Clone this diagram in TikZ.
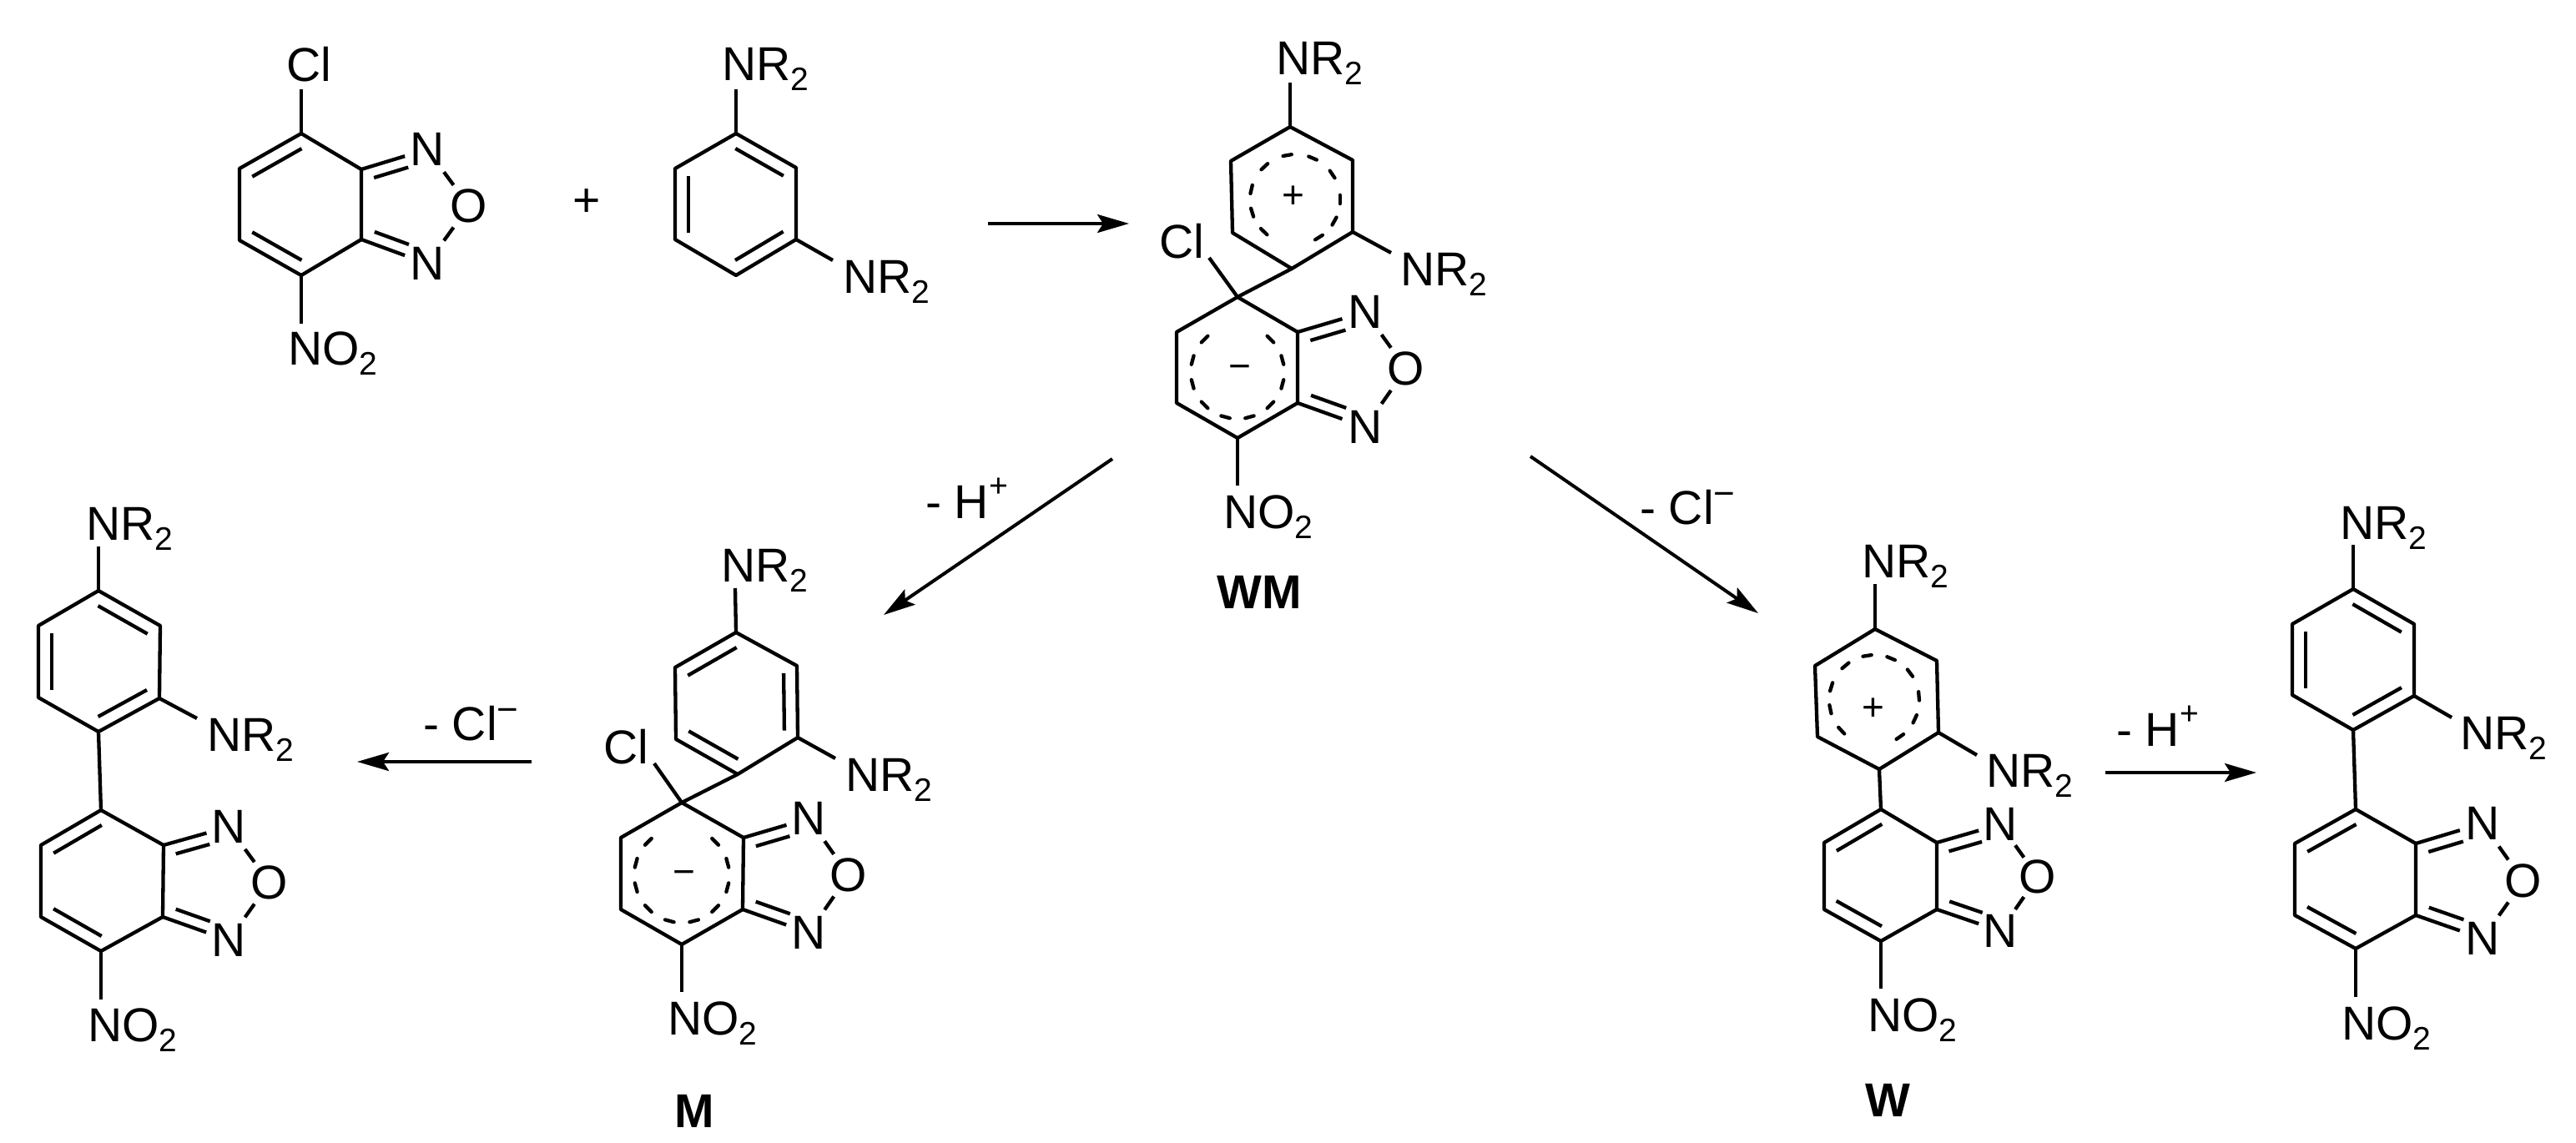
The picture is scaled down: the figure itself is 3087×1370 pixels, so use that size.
\documentclass[tikz,border=0pt]{standalone}
\usepackage{fontspec}
\setmainfont{Liberation Sans}
\usetikzlibrary{calc, arrows.meta}

\newcommand{\subtwo}{\raisebox{-12pt}{\fontsize{39pt}{39pt}\selectfont 2}}
\newcommand{\supplus}{\raisebox{26pt}{\fontsize{39pt}{39pt}\selectfont +}}
\newcommand{\supminus}{\raisebox{22pt}{\fontsize{44pt}{44pt}\selectfont −}}
\newcommand{\atoms}[1]{\foreach \n/\x/\y in {#1} {\coordinate (\n) at (\x,\y);}}
\newcommand{\hexbonds}[1]{\draw[bond] (#1T) -- (#1UR) -- (#1LR) -- (#1B) -- (#1LL) -- (#1UL) -- cycle;}
\newcommand{\innerbond}[2]{\draw[bond] ($(#1)!.1!(#2)!16pt!90:(#2)$) -- ($(#2)!.1!(#1)!16pt!-90:(#1)$);}
\newcommand{\furazan}[5]{
    \draw[bond] (#1) -- ($(#1)!.66!(#3)$);
    \draw[bond] ($(#1)!.14!(#3)!14pt!-90:(#3)$) -- ($(#1)!.66!(#3)!14pt!-90:(#3)$);
    \draw[bond] (#2) -- ($(#2)!.66!(#4)$);
    \draw[bond] ($(#2)!.14!(#4)!14pt!90:(#4)$) -- ($(#2)!.66!(#4)!14pt!90:(#4)$);
    \draw[bond] ($(#3)!.4!(#5)$) -- ($(#3)!.63!(#5)$);
    \draw[bond] ($(#4)!.4!(#5)$) -- ($(#4)!.63!(#5)$);
}
\newcommand{\chargering}[3]{\foreach \a in {#3} {\draw[bond, line cap=round] ($(#1)+({-\a-5.5}:#2)$) -- ($(#1)+({-\a+5.5}:#2)$);}}

\tikzset{
    bond/.style={line width=4.3pt, line join=round},
    atom/.style={inner sep=0pt, font=\fontsize{57pt}{60pt}\selectfont},
    label/.style={atom, anchor=base west},
    tag/.style={atom, anchor=base, font=\fontsize{57pt}{60pt}\selectfont\bfseries},
    charge/.style={inner sep=0pt, font=\fontsize{46pt}{48pt}\selectfont},
    rxn/.style={line width=4pt, -{Stealth[length=38pt, width=22pt, inset=7pt]}}
}

\begin{document}
\begin{tikzpicture}[x=1pt, y=-1pt]
    \useasboundingbox (0,0) rectangle (3087,1370);

    \atoms{aT/361/160, aUR/433/203, aLR/433/287, aB/361/330, aLL/287/288, aUL/287/202, aX/361/107, aY/361/388}
    \node[label] (aCl) at (343,98) {Cl};
    \node[label] (aNO) at (345,437) {NO\subtwo};
    \node[atom] (aN1) at (512,179) {N};
    \node[atom] (aN2) at (512,316) {N};
    \node[atom] (aO) at (562,247) {O};
    \hexbonds{a}
    \draw[bond] (aT) -- (aX);
    \draw[bond] (aB) -- (aY);
    \innerbond{aT}{aUL}
    \innerbond{aLL}{aB}
    \furazan{aUR}{aLR}{aN1}{aN2}{aO}

    \node[atom] (plus) at (703,243) {+};

    \atoms{bT/882/160, bUR/954/201, bLR/954/287, bB/882/330, bLL/809/287, bUL/809/202, bX/882/107, bY/998/312}
    \node[label] (bN1) at (865,97) {NR\subtwo};
    \node[label] (bN2) at (1010,351) {NR\subtwo};
    \hexbonds{b}
    \draw[bond] (bT) -- (bX);
    \draw[bond] (bLR) -- (bY);
    \innerbond{bUR}{bT}
    \innerbond{bUL}{bLL}
    \innerbond{bB}{bLR}

    \atoms{arrow1a/1184/268, arrow1b/1353/268}
    \draw[rxn] (arrow1a) -- (arrow1b);

    \atoms{cT/1546/152, cUR/1621/192, cLR/1621/278, cB/1548/322, cLL/1477/279, cUL/1475/193, cX/1546/99, cY/1667/303, cC/1552/239}
    \atoms{dT/1483/356, dUR/1555/398, dLR/1555/483, dB/1483/525, dLL/1410/483, dUL/1410/398, dX/1449/309, dY/1483/582, dC/1483/446}
    \node[label] (cN1) at (1529,90) {NR\subtwo};
    \node[label] (cN2) at (1678,342) {NR\subtwo};
    \node[label] (dCl) at (1389,309) {Cl};
    \node[label] (dNO) at (1466,633) {NO\subtwo};
    \node[atom] (dN1) at (1636,374) {N};
    \node[atom] (dN2) at (1636,512) {N};
    \node[atom] (dO) at (1685,442) {O};
    \node[charge] (cQ) at (1550,236) {+};
    \node[charge] (dQ) at (1486,446) {−};
    \node[tag] (wm) at (1509,729) {WM};
    \hexbonds{c}
    \hexbonds{d}
    \draw[bond] (cT) -- (cX);
    \draw[bond] (cLR) -- (cY);
    \draw[bond] (cB) -- (dT);
    \draw[bond] (dT) -- (dX);
    \draw[bond] (dB) -- (dY);
    \chargering{cC}{54}{0,34,67,100,133,167,197,226,302,331}
    \chargering{dC}{56}{15,45,135,165,195,225,255,285,315,345}
    \furazan{dUR}{dLR}{dN1}{dN2}{dO}

    \atoms{arrow2a/1333/550, arrow2b/1059/737, arrow3a/1834/547, arrow3b/2107/735}
    \draw[rxn] (arrow2a) -- (arrow2b);
    \draw[rxn] (arrow3a) -- (arrow3b);
    \node[label] (lossH) at (1109,621) {- H\supplus};
    \node[label] (lossCl) at (1965,628) {- Cl\supminus};

    \atoms{pT/118/708, pUR/192/750, pLR/191/837, pB/118/877, pLL/46/836, pUL/46/750, pX/118/655, pY/236/861}
    \atoms{qT/121/971, qUR/196/1013, qLR/195/1099, qB/121/1140, qLL/49/1099, qUL/49/1013, qY/121/1198}
    \node[label] (pN1) at (103,647) {NR\subtwo};
    \node[label] (pN2) at (248,900) {NR\subtwo};
    \node[label] (qNO) at (105,1248) {NO\subtwo};
    \node[atom] (qN1) at (274,991) {N};
    \node[atom] (qN2) at (274,1127) {N};
    \node[atom] (qO) at (323,1058) {O};
    \hexbonds{p}
    \hexbonds{q}
    \draw[bond] (pT) -- (pX);
    \draw[bond] (pLR) -- (pY);
    \draw[bond] (pB) -- (qT);
    \draw[bond] (qB) -- (qY);
    \innerbond{pUR}{pT}
    \innerbond{pUL}{pLL}
    \innerbond{pB}{pLR}
    \innerbond{qT}{qUL}
    \innerbond{qLL}{qB}
    \furazan{qUR}{qLR}{qN1}{qN2}{qO}

    \atoms{arrow4a/637/913, arrow4b/428/913}
    \draw[rxn] (arrow4a) -- (arrow4b);
    \node[label] (lossCl2) at (507,887) {- Cl\supminus};

    \atoms{eT/882/758, eUR/955/798, eLR/956/884, eB/884/928, eLL/810/886, eUL/809/800, eX/881/705, eY/1001/909}
    \atoms{fT/817/962, fUR/891/1004, fLR/890/1090, fB/817/1132, fLL/744/1090, fUL/744/1004, fX/784/915, fY/817/1189, fC/817/1049}
    \node[label] (eN1) at (864,697) {NR\subtwo};
    \node[label] (eN2) at (1013,948) {NR\subtwo};
    \node[label] (fCl) at (723,915) {Cl};
    \node[label] (fNO) at (800,1240) {NO\subtwo};
    \node[atom] (fN1) at (969,981) {N};
    \node[atom] (fN2) at (969,1118) {N};
    \node[atom] (fO) at (1017,1049) {O};
    \node[charge] (fQ) at (820,1052) {−};
    \node[tag] (m) at (832,1351) {M};
    \hexbonds{e}
    \hexbonds{f}
    \draw[bond] (eT) -- (eX);
    \draw[bond] (eLR) -- (eY);
    \draw[bond] (eB) -- (fT);
    \draw[bond] (fT) -- (fX);
    \draw[bond] (fB) -- (fY);
    \innerbond{eT}{eUL}
    \innerbond{eLR}{eUR}
    \innerbond{eLL}{eB}
    \chargering{fC}{57}{15,45,135,165,195,225,255,285,315,345}
    \furazan{fUR}{fLR}{fN1}{fN2}{fO}

    \atoms{gT/2247/754, gUR/2321/792, gLR/2323/878, gB/2252/922, gLL/2178/883, gUL/2175/798, gX/2247/700, gY/2369/905, gC/2246/839}
    \atoms{hT/2254/970, hUR/2321/1010, hLR/2321/1090, hB/2254/1128, hLL/2186/1090, hUL/2186/1010, hY/2254/1185}
    \node[label] (gN1) at (2231,692) {NR\subtwo};
    \node[label] (gN2) at (2380,943) {NR\subtwo};
    \node[label] (hNO) at (2238,1236) {NO\subtwo};
    \node[atom] (hN1) at (2397,988) {N};
    \node[atom] (hN2) at (2397,1116) {N};
    \node[atom] (hO) at (2442,1051) {O};
    \node[charge] (gQ) at (2245,850) {+};
    \node[tag] (w) at (2262,1338) {W};
    \hexbonds{g}
    \hexbonds{h}
    \draw[bond] (gT) -- (gX);
    \draw[bond] (gLR) -- (gY);
    \draw[bond] (gB) -- (hT);
    \draw[bond] (hB) -- (hY);
    \innerbond{hT}{hUL}
    \innerbond{hLL}{hB}
    \chargering{gC}{54}{5,37,68,99,130,163,192,223,305,335}
    \furazan{hUR}{hLR}{hN1}{hN2}{hO}

    \atoms{arrow5a/2523/926, arrow5b/2704/926}
    \draw[rxn] (arrow5a) -- (arrow5b);
    \node[label] (lossH2) at (2536,894) {- H\supplus};

    \atoms{rT/2820/706, rUR/2893/748, rLR/2893/834, rB/2820/875, rLL/2747/833, rUL/2747/748, rX/2820/653, rY/2938/860}
    \atoms{sT/2823/970, sUR/2895/1011, sLR/2895/1097, sB/2823/1137, sLL/2750/1097, sUL/2750/1011, sY/2823/1195}
    \node[label] (rN1) at (2804,646) {NR\subtwo};
    \node[label] (rN2) at (2948,898) {NR\subtwo};
    \node[label] (sNO) at (2806,1246) {NO\subtwo};
    \node[atom] (sN1) at (2975,987) {N};
    \node[atom] (sN2) at (2975,1125) {N};
    \node[atom] (sO) at (3024,1056) {O};
    \hexbonds{r}
    \hexbonds{s}
    \draw[bond] (rT) -- (rX);
    \draw[bond] (rLR) -- (rY);
    \draw[bond] (rB) -- (sT);
    \draw[bond] (sB) -- (sY);
    \innerbond{rUR}{rT}
    \innerbond{rUL}{rLL}
    \innerbond{rB}{rLR}
    \innerbond{sT}{sUL}
    \innerbond{sLL}{sB}
    \furazan{sUR}{sLR}{sN1}{sN2}{sO}
\end{tikzpicture}
\end{document}
